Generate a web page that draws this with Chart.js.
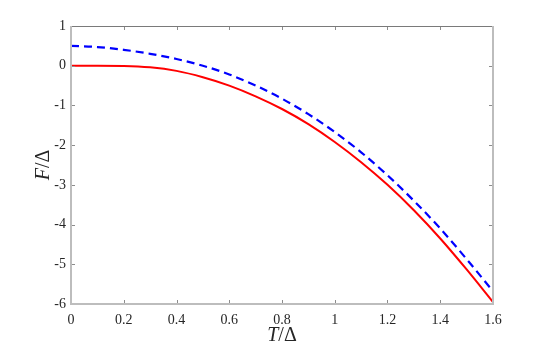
<!DOCTYPE html>
<html>
<head>
<meta charset="utf-8">
<script src="https://cdn.jsdelivr.net/npm/chart.js@4.4.1/dist/chart.umd.min.js"></script>
<style>
  html, body { margin: 0; padding: 0; background: #ffffff; }
  #wrap { width: 545px; height: 347px; }
</style>
</head>
<body>
<div id="wrap"><canvas id="c" width="545" height="347"></canvas></div>
<script>
// ---- data ----
const temps = [0, 0.1, 0.2, 0.3, 0.4, 0.5, 0.6, 0.7, 0.8, 0.9, 1.0, 1.1, 1.2, 1.3, 1.4, 1.5, 1.6];
const redF  = [0, 0, -0.005, -0.04, -0.13, -0.29, -0.50, -0.77, -1.09, -1.47, -1.92, -2.43, -3.00, -3.64, -4.35, -5.13, -5.95];
const blueF = [0.50, 0.47, 0.40, 0.30, 0.17, 0.00, -0.22, -0.50, -0.83, -1.22, -1.67, -2.18, -2.76, -3.40, -4.10, -4.87, -5.68];
const xTicks = [0, 0.2, 0.4, 0.6, 0.8, 1, 1.2, 1.4, 1.6];
const yTicks = [-6, -5, -4, -3, -2, -1, 0, 1];
const xTitle = ['T', '/Δ'];
const yTitle = ['F', '/Δ'];

const serif = '"Liberation Serif", "DejaVu Serif", serif';

const framePlugin = {
  id: 'frame',
  afterDatasetsDraw(chart) {
    const ctx = chart.ctx;
    const a = chart.chartArea;
    const xs = chart.scales.x, ys = chart.scales.y;
    ctx.save();
    // ticks (inward, all four sides)
    ctx.strokeStyle = '#8c8c8c';
    ctx.lineWidth = 1;
    const tl = 4;
    ctx.beginPath();
    xTicks.forEach(v => {
      const px = Math.round(xs.getPixelForValue(v)) + 0.5;
      ctx.moveTo(px, a.bottom); ctx.lineTo(px, a.bottom - tl);
      ctx.moveTo(px, a.top); ctx.lineTo(px, a.top + tl);
    });
    yTicks.forEach(v => {
      const py = Math.round(ys.getPixelForValue(v)) + 0.5;
      ctx.moveTo(a.left, py); ctx.lineTo(a.left + tl, py);
      ctx.moveTo(a.right, py); ctx.lineTo(a.right - tl, py);
    });
    ctx.stroke();
    // top border (thin dark)
    ctx.strokeStyle = '#7a7a7a';
    ctx.lineWidth = 1;
    ctx.beginPath();
    ctx.moveTo(a.left, Math.round(a.top) + 0.5);
    ctx.lineTo(a.right, Math.round(a.top) + 0.5);
    ctx.stroke();
    // left, bottom, right borders (light, thicker)
    ctx.strokeStyle = '#bdbdbd';
    ctx.lineWidth = 2;
    ctx.beginPath();
    ctx.moveTo(a.left, a.top);
    ctx.lineTo(a.left, a.bottom);
    ctx.lineTo(a.right, a.bottom);
    ctx.lineTo(a.right, a.top);
    ctx.stroke();
    ctx.restore();
  },
  afterDraw(chart) {
    const ctx = chart.ctx;
    const a = chart.chartArea;
    ctx.save();
    ctx.fillStyle = '#262626';
    ctx.textBaseline = 'alphabetic';
    const it = 'italic 20px ' + serif;
    const up = '20px ' + serif;
    // x title
    ctx.font = it; const w1 = ctx.measureText(xTitle[0]).width;
    ctx.font = up; const w2 = ctx.measureText(xTitle[1]).width;
    let x0 = (a.left + a.right) / 2 - (w1 + w2) / 2;
    const yb = 341;
    ctx.font = it; ctx.fillText(xTitle[0], x0, yb);
    ctx.font = up; ctx.fillText(xTitle[1], x0 + w1, yb);
    // y title (rotated)
    ctx.translate(49, (a.top + a.bottom) / 2);
    ctx.rotate(-Math.PI / 2);
    ctx.font = it; const v1 = ctx.measureText(yTitle[0]).width;
    ctx.font = up; const v2 = ctx.measureText(yTitle[1]).width;
    const s0 = -(v1 + v2) / 2;
    ctx.font = it; ctx.fillText(yTitle[0], s0, 0);
    ctx.font = up; ctx.fillText(yTitle[1], s0 + v1, 0);
    ctx.restore();
  }
};

new Chart(document.getElementById('c'), {
  type: 'line',
  data: {
    datasets: [
      {
        label: 'red',
        data: temps.map((t, i) => ({ x: t, y: redF[i] })),
        borderColor: '#ff0000',
        borderWidth: 2,
        pointRadius: 0,
        cubicInterpolationMode: 'monotone',
        fill: false
      },
      {
        label: 'blue',
        data: temps.map((t, i) => ({ x: t, y: blueF[i] })),
        borderColor: '#0000ff',
        borderWidth: 2.2,
        borderDash: [8, 5],
        pointRadius: 0,
        cubicInterpolationMode: 'monotone',
        fill: false
      }
    ]
  },
  options: {
    responsive: false,
    animation: false,
    devicePixelRatio: 1,
    layout: { padding: { left: 0, top: 26, right: 52, bottom: 0 } },
    plugins: { legend: { display: false }, tooltip: { enabled: false } },
    scales: {
      x: {
        type: 'linear',
        min: 0, max: 1.6,
        afterBuildTicks: s => { s.ticks = xTicks.map(v => ({ value: v })); },
        afterFit: s => { s.height = 43; },
        grid: { display: false, drawTicks: false },
        border: { display: false },
        ticks: {
          padding: 8,
          color: '#262626',
          font: { family: serif, size: 14 },
          maxRotation: 0,
          callback: v => String(v)
        }
      },
      y: {
        type: 'linear',
        min: -6, max: 1,
        afterBuildTicks: s => { s.ticks = yTicks.map(v => ({ value: v })); },
        afterFit: s => { s.width = 71; },
        grid: { display: false, drawTicks: false },
        border: { display: false },
        ticks: {
          padding: 5,
          color: '#262626',
          font: { family: serif, size: 14 },
          callback: v => String(v)
        }
      }
    }
  },
  plugins: [framePlugin]
});
</script>
</body>
</html>
